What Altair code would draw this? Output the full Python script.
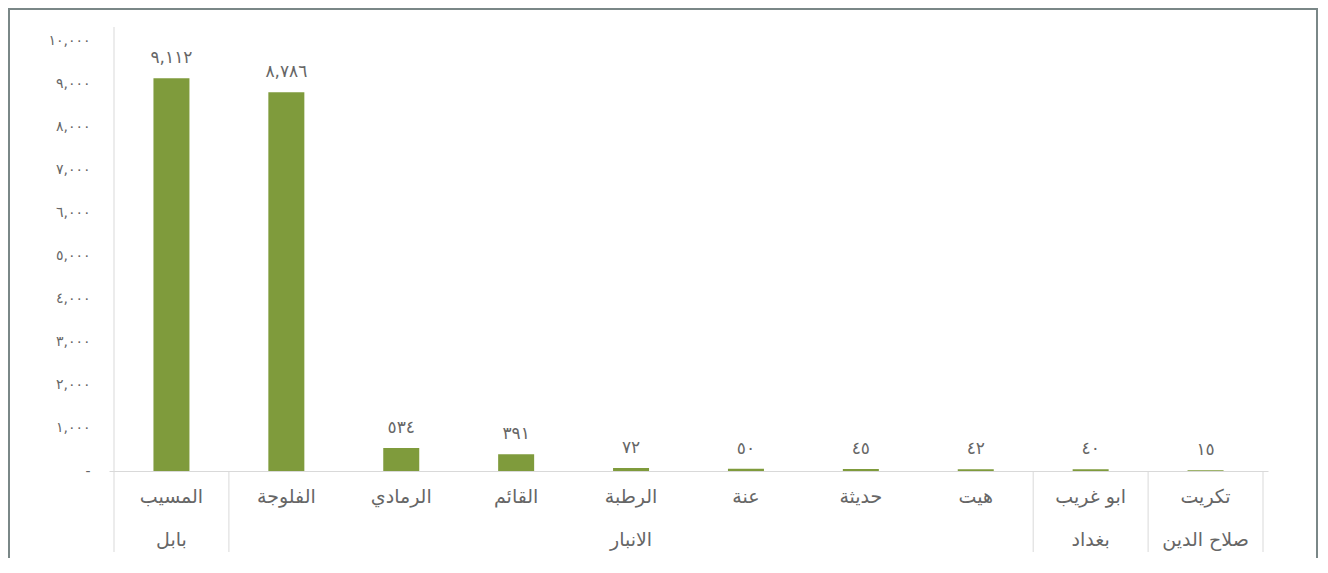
import json
import altair as alt
import pandas as pd

# ---- data ----
cities = ["المسيب", "الفلوجة", "الرمادي", "القائم", "الرطبة", "عنة", "حديثة", "هيت", "ابو غريب", "تكريت"]
governorates = ["بابل", "الانبار", "الانبار", "الانبار", "الانبار", "الانبار", "الانبار", "الانبار", "بغداد", "صلاح الدين"]
values = [9112, 8786, 534, 391, 72, 50, 45, 42, 40, 15]
value_labels = ["٩,١١٢", "٨,٧٨٦", "٥٣٤", "٣٩١", "٧٢", "٥٠", "٤٥", "٤٢", "٤٠", "١٥"]
y_tick_values = [0, 1000, 2000, 3000, 4000, 5000, 6000, 7000, 8000, 9000, 10000]
y_tick_labels = ["-\u00a0\u00a0", "١,٠٠٠", "٢,٠٠٠", "٣,٠٠٠", "٤,٠٠٠", "٥,٠٠٠",
                 "٦,٠٠٠", "٧,٠٠٠", "٨,٠٠٠", "٩,٠٠٠", "١٠,٠٠٠"]

n = len(cities)
df = pd.DataFrame({
    "idx": list(range(n)),
    "pos": [i + 0.5 for i in range(n)],
    "city": cities,
    "gov": governorates,
    "value": values,
    "label": value_labels,
})

# governorate groups (start/end index)
groups = []
start = 0
for i in range(1, n + 1):
    if i == n or governorates[i] != governorates[start]:
        groups.append({"gov": governorates[start], "start": start, "end": i, "center": (start + i) / 2})
        start = i
gdf = pd.DataFrame(groups)
bounds = sorted(set([g["start"] for g in groups] + [g["end"] for g in groups]))
bdf = pd.DataFrame({"b": bounds})

W, H = 1159, 431
FONT = "DejaVu Sans"
TXT = "#666666"
LINE = "#d9d9d9"
BAR = "#7f9b3c"

xscale = alt.Scale(domain=[0, n], nice=False, zero=False)
yscale = alt.Scale(domain=[0, 10000], nice=False)

label_expr = json.dumps(y_tick_labels, ensure_ascii=False) + "[round(datum.value / 1000)]"

bars = alt.Chart(df).mark_bar(size=36, color=BAR).encode(
    x=alt.X("pos:Q", scale=xscale,
            axis=alt.Axis(labels=False, ticks=False, grid=False, title=None,
                          domain=True, domainColor=LINE, domainWidth=1)),
    y=alt.Y("value:Q", scale=yscale,
            axis=alt.Axis(values=y_tick_values, labelExpr=label_expr, ticks=False,
                          grid=False, domain=False, title=None, labelPadding=19,
                          labelFont=FONT, labelFontSize=14, labelColor=TXT)),
)

value_text = alt.Chart(df).mark_text(
    baseline="bottom", dy=-11, font=FONT, fontSize=17, color=TXT
).encode(x=alt.X("pos:Q", scale=xscale), y=alt.Y("value:Q", scale=yscale), text="label:N")

city_text = alt.Chart(df).mark_text(
    baseline="middle", font=FONT, fontSize=19, color=TXT
).encode(x=alt.X("pos:Q", scale=xscale), y=alt.value(H + 26), text="city:N")

gov_text = alt.Chart(gdf).mark_text(
    baseline="middle", font=FONT, fontSize=19, color=TXT
).encode(x=alt.X("center:Q", scale=xscale), y=alt.value(H + 69), text="gov:N")

sep_rules = alt.Chart(bdf).mark_rule(color=LINE, strokeWidth=1).encode(
    x=alt.X("b:Q", scale=xscale), y=alt.value(H), y2=alt.value(H + 81)
)

left_rule = alt.Chart(bdf).transform_filter("datum.b == 0").mark_rule(color=LINE, strokeWidth=1).encode(
    x=alt.X("b:Q", scale=xscale), y=alt.value(-13), y2=alt.value(H)
)

frame = alt.Chart(bdf).transform_filter("datum.b == 0").mark_rect(
    fill="transparent", stroke="#7a8787", strokeWidth=2
).encode(
    x=alt.value(-100), x2=alt.value(W + 49), y=alt.value(-31), y2=alt.value(H + 120)
)

chart = alt.layer(frame, sep_rules, left_rule, bars, value_text, city_text, gov_text).properties(
    width=W, height=H,
    autosize=alt.AutoSizeParams(type="none"),
    padding={"left": 101, "top": 32, "right": 50, "bottom": 87},
    background="white",
).configure_view(strokeWidth=0)

chart.save("out.html", embed_options={"renderer": "svg", "actions": False})
